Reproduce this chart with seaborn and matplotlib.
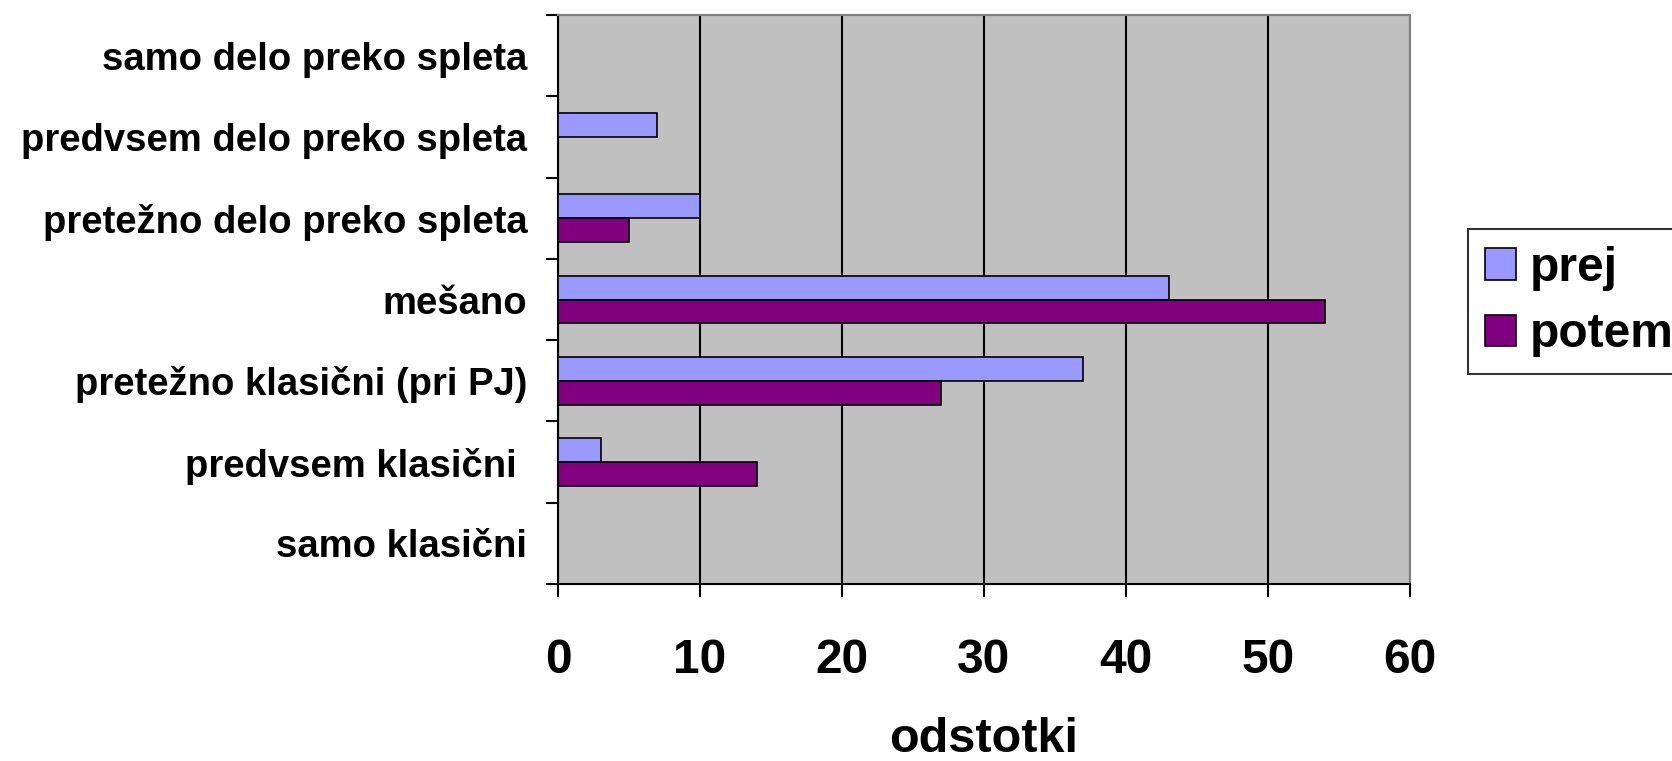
import pandas as pd
import numpy as np
import seaborn as sns
import matplotlib.pyplot as plt

# Chart data
categories = ["samo delo preko spleta", "predvsem delo preko spleta",
              "pretežno delo preko spleta", "mešano",
              "pretežno klasični (pri PJ)", "predvsem klasični ", "samo klasični"]
prej = [0, 7, 10, 43, 37, 3, 0]
potem = [0, 0, 5, 54, 27, 14, 0]
series = ["prej", "potem"]
colors = ["#9999FF", "#800080"]

df = pd.DataFrame({"kategorija": categories * 2,
                   "odstotki": prej + potem,
                   "obdobje": [series[0]] * 7 + [series[1]] * 7})

sns.set_style("white")
plt.rcParams["font.family"] = ["Liberation Sans", "DejaVu Sans"]
plt.rcParams["font.weight"] = "bold"
plt.rcParams["text.color"] = "black"
plt.rcParams["xtick.color"] = "black"
plt.rcParams["ytick.color"] = "black"
plt.rcParams["axes.labelcolor"] = "black"

fig = plt.figure(figsize=(16.72, 7.61), dpi=100)
ax = fig.add_axes([558 / 1672, 1 - 584 / 761, (1410 - 558) / 1672, (584 - 15) / 761])
ax.set_facecolor("#C0C0C0")

sns.barplot(data=df, x="odstotki", y="kategorija", hue="obdobje", orient="h",
            palette=colors, saturation=1, width=0.59, edgecolor="black",
            linewidth=1.2, ax=ax, zorder=3, legend=True)

ax.set_xlim(0, 60)
ax.set_ylim(6.5, -0.5)
ax.set_xticks(range(0, 61, 10))
ax.grid(axis="x", color="black", linewidth=1.5, zorder=1)
ax.set_axisbelow(True)

# category ticks sit between categories
ax.set_yticks(np.arange(-0.5, 7, 1), minor=True)
ax.tick_params(axis="y", which="major", length=0, pad=22, labelsize=27.5)
ax.tick_params(axis="y", which="minor", length=9, width=1.5, color="black", left=True)
ax.tick_params(axis="x", length=9, width=1.5, color="black", bottom=True, pad=30, labelsize=34.5)
for lab in ax.get_yticklabels() + ax.get_xticklabels():
    lab.set_fontweight("bold")

ax.set_ylabel("")
ax.set_xlabel("odstotki", fontsize=35, fontweight="bold", labelpad=24)

for side in ["left", "bottom"]:
    ax.spines[side].set_color("black")
    ax.spines[side].set_linewidth(1.5)
for side in ["top", "right"]:
    ax.spines[side].set_color("#808080")
    ax.spines[side].set_linewidth(1.5)

ax.legend(loc="upper left", bbox_to_anchor=(1468 / 1672, 1 - 229 / 761),
          bbox_transform=fig.transFigure, frameon=True, fancybox=False,
          edgecolor="black", prop={"size": 34.5, "weight": "bold"},
          handlelength=0.65, handleheight=0.65, handletextpad=0.3,
          labelspacing=0.45, borderpad=0.35, borderaxespad=0)
ax.get_legend().get_frame().set_linewidth(1.5)

fig.savefig("out.png", dpi=100)
